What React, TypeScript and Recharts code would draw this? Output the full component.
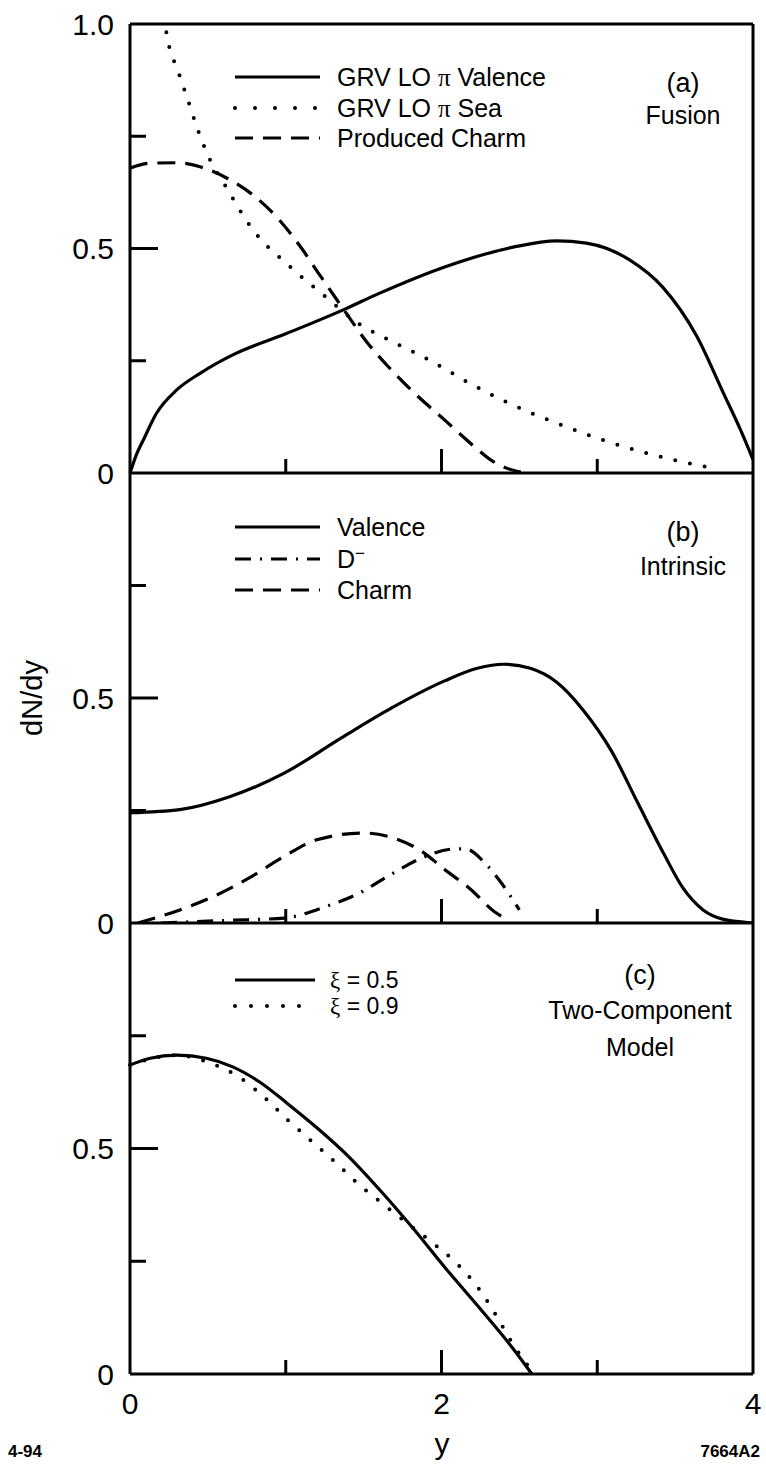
import React from "react";
import { LineChart, Line, XAxis, YAxis } from "recharts";

const W = 766;
const H = 1464;
const FONT = '"Liberation Sans", Arial, Helvetica, sans-serif';
const GREEK = '"Liberation Serif", "DejaVu Serif", serif';

const X_TICKS = [0, 1, 2, 3, 4];
const Y_TICKS = [0, 0.25, 0.5, 0.75, 1];

// (a) Fusion
const fusionValenceX = [0, 0.04, 0.085, 0.17, 0.3, 0.45, 0.66, 1.0, 1.38, 1.6, 2.03, 2.46, 2.74, 2.93, 3.21, 3.42, 3.64, 3.81, 3.92, 4.0];
const fusionValenceY = [0, 0.04, 0.073, 0.133, 0.185, 0.222, 0.263, 0.31, 0.365, 0.4, 0.46, 0.503, 0.517, 0.512, 0.474, 0.414, 0.304, 0.178, 0.096, 0.03];
const fusionSeaX = [0.18, 0.225, 0.245, 0.31, 0.375, 0.44, 0.514, 0.62, 0.79, 1.0, 1.23, 1.48, 1.67, 1.93, 2.18, 2.46, 2.74, 3.04, 3.32, 3.64, 3.75];
const fusionSeaY = [1.08, 0.998, 0.96, 0.894, 0.827, 0.76, 0.697, 0.635, 0.541, 0.468, 0.4, 0.33, 0.295, 0.25, 0.2, 0.151, 0.111, 0.073, 0.044, 0.018, 0.01];
const fusionCharmX = [0, 0.13, 0.3, 0.45, 0.62, 0.79, 0.96, 1.09, 1.22, 1.37, 1.52, 1.65, 1.82, 2.03, 2.2, 2.33, 2.46, 2.55];
const fusionCharmY = [0.679, 0.69, 0.691, 0.682, 0.657, 0.619, 0.563, 0.506, 0.44, 0.365, 0.292, 0.24, 0.18, 0.115, 0.062, 0.026, 0.006, 0];

// (b) Intrinsic
const intrValenceX = [0, 0.32, 0.635, 0.99, 1.36, 1.68, 2.02, 2.23, 2.4, 2.57, 2.74, 2.91, 3.09, 3.26, 3.43, 3.55, 3.68, 3.81, 3.94, 4.0];
const intrValenceY = [0.245, 0.252, 0.28, 0.333, 0.412, 0.478, 0.538, 0.566, 0.575, 0.566, 0.535, 0.473, 0.383, 0.267, 0.152, 0.078, 0.029, 0.008, 0.002, 0];
const intrDX = [0.2, 0.64, 0.99, 1.26, 1.47, 1.66, 1.87, 2.06, 2.15, 2.29, 2.38, 2.5];
const intrDY = [0, 0.006, 0.011, 0.037, 0.066, 0.105, 0.144, 0.164, 0.165, 0.129, 0.091, 0.029];
const intrCharmX = [0.05, 0.32, 0.53, 0.76, 0.99, 1.2, 1.5, 1.68, 1.87, 2.02, 2.19, 2.34, 2.4];
const intrCharmY = [0, 0.029, 0.058, 0.099, 0.148, 0.185, 0.2, 0.19, 0.16, 0.119, 0.074, 0.025, 0.012];

// (c) Two-Component Model
const twoHalfX = [0, 0.13, 0.3, 0.49, 0.66, 0.83, 1.01, 1.2, 1.41, 1.62, 1.82, 2.03, 2.25, 2.46, 2.58];
const twoHalfY = [0.685, 0.7, 0.707, 0.7, 0.681, 0.648, 0.6, 0.546, 0.48, 0.402, 0.322, 0.233, 0.144, 0.056, 0];
const twoNineX = [0, 0.3, 0.52, 0.71, 0.87, 1.01, 1.17, 1.32, 1.47, 1.62, 1.785, 1.95, 2.11, 2.24, 2.35, 2.45, 2.57];
const twoNineY = [0.685, 0.707, 0.689, 0.656, 0.611, 0.564, 0.515, 0.469, 0.42, 0.378, 0.333, 0.289, 0.241, 0.189, 0.13, 0.071, 0.011];

const pts = (xs: number[], ys: number[]) => xs.map((x, i) => ({ x, v: ys[i] }));

const SOLID = {};
const DOTTED = { strokeDasharray: "0 15", strokeLinecap: "round" as const, strokeWidth: 4 };
const DASHED = { strokeDasharray: "18 10" };
const DASHDOT = { strokeDasharray: "16 9 2 9" };

const LeftTick = ({ x, y, payload, labels }: any) => {
  const v = payload.value;
  const len = v === 0.5 ? 28 : v === 0 || v === 1 ? 0 : 16;
  const label = labels[String(v)];
  return (
    <g>
      {len > 0 && <line x1={x} x2={x + len} y1={y} y2={y} stroke="#000" strokeWidth={3} />}
      {label && (
        <text x={x - 16} y={y} dy="0.36em" textAnchor="end" fontSize={30} fontFamily={FONT} fill="#000">
          {label}
        </text>
      )}
    </g>
  );
};

const RightTick = ({ x, y, payload }: any) => {
  const v = payload.value;
  const len = v === 0.5 ? 27 : v === 0 || v === 1 ? 0 : 15;
  return len > 0 ? <line x1={x} x2={x - len} y1={y} y2={y} stroke="#000" strokeWidth={3} /> : <g />;
};

const BottomTick = ({ x, y, payload, showLabels }: any) => {
  const v = payload.value;
  const len = v === 0 || v === 4 ? 0 : v === 2 ? 24 : 14;
  return (
    <g>
      {len > 0 && <line x1={x} x2={x} y1={y} y2={y - len} stroke="#000" strokeWidth={3} />}
      {showLabels && v % 2 === 0 && (
        <text x={x} y={y + 29} dy="0.36em" textAnchor="middle" fontSize={30} fontFamily={FONT} fill="#000">
          {v}
        </text>
      )}
    </g>
  );
};

const TopTick = ({ x, y, payload }: any) => {
  const v = payload.value;
  const len = v === 0 || v === 4 ? 0 : v === 2 ? 26 : 13;
  return len > 0 ? <line x1={x} x2={x} y1={y} y2={y + len} stroke="#000" strokeWidth={3} /> : <g />;
};

type Series = { data: { x: number; v: number }[]; style: any };

const axisLine = { stroke: "#000", strokeWidth: 3 };

function Panel({ top, bottom, series, labels, showX, topTicks }: {
  top: number;
  bottom: number;
  series: Series[];
  labels: Record<string, string>;
  showX?: boolean;
  topTicks?: boolean;
}) {
  return (
    <div style={{ position: "absolute", left: 0, top: 0 }}>
      <LineChart
        width={W}
        height={H}
        margin={{ top: topTicks ? top - 1 : top, bottom: H - bottom - 1, left: 0, right: 0 }}
      >
        <XAxis
          type="number"
          dataKey="x"
          domain={[0, 4]}
          ticks={X_TICKS}
          height={1}
          tickSize={0}
          tickMargin={0}
          axisLine={axisLine}
          tickLine={false}
          tick={<BottomTick showLabels={showX} />}
          interval={0}
        />
        {topTicks && (
          <XAxis
            xAxisId="top"
            orientation="top"
            type="number"
            dataKey="x"
            domain={[0, 4]}
            ticks={X_TICKS}
            height={1}
            tickSize={0}
            tickMargin={0}
            axisLine={axisLine}
            tickLine={false}
            tick={<TopTick />}
            interval={0}
          />
        )}
        <YAxis
          type="number"
          domain={[0, 1]}
          ticks={Y_TICKS}
          allowDataOverflow
          width={130}
          tickSize={0}
          tickMargin={0}
          axisLine={axisLine}
          tickLine={false}
          tick={<LeftTick labels={labels} />}
          interval={0}
        />
        <YAxis
          yAxisId="r"
          orientation="right"
          type="number"
          domain={[0, 1]}
          ticks={Y_TICKS}
          width={13}
          tickSize={0}
          tickMargin={0}
          axisLine={axisLine}
          tickLine={false}
          tick={<RightTick />}
          interval={0}
        />
        {series.map((s, i) => (
          <Line
            key={i}
            data={s.data}
            dataKey="v"
            type="monotone"
            stroke="#000"
            strokeWidth={3.2}
            dot={false}
            activeDot={false}
            isAnimationActive={false}
            {...s.style}
          />
        ))}
      </LineChart>
    </div>
  );
}

const LegendRow = ({ y, style, children, x1 = 235, x2 = 320, tx = 337, size = 25 }: any) => (
  <g>
    <line x1={x1} x2={x2} y1={y} y2={y} stroke="#000" strokeWidth={style.strokeWidth || 3.2} strokeDasharray={style.strokeDasharray} strokeLinecap={style.strokeLinecap} />
    <text x={tx} y={y} dy="0.36em" fontSize={size} fontFamily={FONT} fill="#000">
      {children}
    </text>
  </g>
);

const Note = ({ x, y, size = 25, children }: any) => (
  <text x={x} y={y} dy="0.36em" textAnchor="middle" fontSize={size} fontFamily={FONT} fill="#000">
    {children}
  </text>
);

export default function App() {
  return (
    <div style={{ position: "absolute", left: 0, top: 0, width: W, height: H, background: "#fff" }}>
      <Panel
        top={24}
        bottom={473}
        topTicks
        labels={{ "0": "0", "0.5": "0.5", "1": "1.0" }}
        series={[
          { data: pts(fusionValenceX, fusionValenceY), style: SOLID },
          { data: pts(fusionSeaX, fusionSeaY), style: DOTTED },
          { data: pts(fusionCharmX, fusionCharmY), style: DASHED },
        ]}
      />
      <Panel
        top={473}
        bottom={923}
        labels={{ "0": "0", "0.5": "0.5" }}
        series={[
          { data: pts(intrValenceX, intrValenceY), style: SOLID },
          { data: pts(intrDX, intrDY), style: DASHDOT },
          { data: pts(intrCharmX, intrCharmY), style: DASHED },
        ]}
      />
      <Panel
        top={923}
        bottom={1374}
        showX
        labels={{ "0": "0", "0.5": "0.5" }}
        series={[
          { data: pts(twoHalfX, twoHalfY), style: SOLID },
          { data: pts(twoNineX, twoNineY), style: DOTTED },
        ]}
      />
      <svg width={W} height={H} style={{ position: "absolute", left: 0, top: 0, pointerEvents: "none" }}>
        <LegendRow y={77} style={SOLID}>
          GRV LO <tspan fontFamily={GREEK}>π</tspan> Valence
        </LegendRow>
        <LegendRow y={108} style={{ ...DOTTED, strokeDasharray: "0 20" }}>
          GRV LO <tspan fontFamily={GREEK}>π</tspan> Sea
        </LegendRow>
        <LegendRow y={138} style={DASHED}>Produced Charm</LegendRow>
        <Note x={683} y={82} size={27}>(a)</Note>
        <Note x={683} y={115}>Fusion</Note>

        <LegendRow y={527} style={SOLID}>Valence</LegendRow>
        <LegendRow y={559} style={DASHDOT}>
          D<tspan dy="-9" fontSize={17}>−</tspan>
        </LegendRow>
        <LegendRow y={590} style={DASHED}>Charm</LegendRow>
        <Note x={683} y={531} size={27}>(b)</Note>
        <Note x={683} y={566}>Intrinsic</Note>

        <LegendRow y={980} style={SOLID} x2={315} tx={330} size={23}>
          <tspan fontFamily={GREEK}>ξ</tspan> = 0.5
        </LegendRow>
        <LegendRow y={1006} style={{ ...DOTTED, strokeDasharray: "0 16" }} x2={315} tx={330} size={23}>
          <tspan fontFamily={GREEK}>ξ</tspan> = 0.9
        </LegendRow>
        <Note x={640} y={974} size={27}>(c)</Note>
        <Note x={640} y={1010}>Two-Component</Note>
        <Note x={640} y={1047}>Model</Note>

        <text x={32} y={698} dy="0.36em" textAnchor="middle" fontSize={29} fontFamily={FONT} transform="rotate(-90 32 698)">
          dN/dy
        </text>
        <text x={442} y={1443} dy="0.36em" textAnchor="middle" fontSize={30} fontFamily={FONT}>
          y
        </text>
        <text x={8} y={1451} dy="0.36em" fontSize={17} fontWeight="bold" fontFamily={FONT}>
          4-94
        </text>
        <text x={760} y={1451} dy="0.36em" textAnchor="end" fontSize={17} fontWeight="bold" fontFamily={FONT}>
          7664A2
        </text>
      </svg>
    </div>
  );
}
